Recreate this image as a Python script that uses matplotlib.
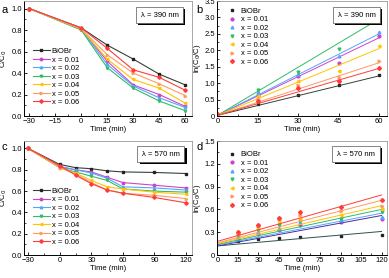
import numpy as np
import matplotlib
matplotlib.use("Agg")
import matplotlib.pyplot as plt
import matplotlib.patheffects as pe

plt.rcParams['font.family'] = ['Liberation Sans', 'DejaVu Sans']
plt.rcParams['font.size'] = 5.5

labels = ["BiOBr", "x = 0.01", "x = 0.02", "x = 0.03", "x = 0.04", "x = 0.05", "x = 0.06"]
colors = ["#222222", "#cc44cc", "#55a5ff", "#33bb66", "#ffc400", "#ff9a60", "#ff3c3c"]
line_cols = ["#334433", "#cc44cc", "#55a5ff", "#33bb66", "#ffc400", "#ff9a60", "#ff3c3c"]
markers = ["s", "o", "^", "v", "<", ">", "D"]

# panel a: C/C0 under 390 nm
t_a = [-30, 0, 15, 30, 45, 60]
cc_a = [
    [1.0, 0.82, 0.66, 0.53, 0.39, 0.29],
    [1.0, 0.81, 0.51, 0.29, 0.20, 0.09],
    [1.0, 0.81, 0.48, 0.28, 0.17, 0.08],
    [1.0, 0.80, 0.45, 0.26, 0.14, 0.05],
    [1.0, 0.81, 0.53, 0.34, 0.26, 0.12],
    [1.0, 0.81, 0.57, 0.40, 0.30, 0.19],
    [1.0, 0.82, 0.63, 0.43, 0.36, 0.24],
]

# panel b: ln(C0/C) under 390 nm
t_b = [0, 15, 30, 45, 60]
ln_b = [
    [0.03, 0.38, 0.64, 0.95, 1.25],
    [0.05, 0.65, 1.22, 1.60, 2.45],
    [0.05, 0.72, 1.28, 1.82, 2.55],
    [0.05, 0.80, 1.35, 2.05, 3.12],
    [0.05, 0.60, 1.08, 1.38, 2.12],
    [0.05, 0.52, 0.95, 1.20, 1.67],
    [0.05, 0.45, 0.85, 1.08, 1.45],
]
fit_b_start = [0.02, 0.02, 0.02, 0.02, 0.02, 0.02, 0.02]
fit_b_end = [1.22, 2.38, 2.50, 2.95, 2.05, 1.62, 1.45]

# panel c: C/C0 under 570 nm
t_c = [-30, 0, 15, 30, 45, 60, 90, 120]
cc_c = [
    [1.0, 0.85, 0.82, 0.81, 0.79, 0.78, 0.775, 0.765],
    [1.0, 0.83, 0.80, 0.78, 0.73, 0.68, 0.655, 0.63],
    [1.0, 0.83, 0.80, 0.77, 0.72, 0.64, 0.63, 0.61],
    [1.0, 0.82, 0.78, 0.74, 0.70, 0.62, 0.60, 0.59],
    [1.0, 0.82, 0.77, 0.70, 0.64, 0.62, 0.59, 0.57],
    [1.0, 0.82, 0.76, 0.68, 0.61, 0.58, 0.56, 0.53],
    [1.0, 0.84, 0.75, 0.67, 0.61, 0.58, 0.54, 0.49],
]

# panel d: ln(C0/C) under 570 nm
t_d = [15, 30, 45, 60, 90, 120]
ln_d = [
    [0.18, 0.21, 0.23, 0.24, 0.25, 0.26],
    [0.22, 0.28, 0.33, 0.39, 0.43, 0.47],
    [0.23, 0.30, 0.36, 0.43, 0.46, 0.50],
    [0.25, 0.33, 0.39, 0.45, 0.48, 0.56],
    [0.27, 0.36, 0.45, 0.48, 0.53, 0.60],
    [0.28, 0.38, 0.47, 0.53, 0.58, 0.64],
    [0.30, 0.40, 0.49, 0.56, 0.63, 0.73],
]
fit_d_start = [0.12, 0.12, 0.13, 0.14, 0.15, 0.16, 0.18]
fit_d_end = [0.31, 0.52, 0.55, 0.60, 0.65, 0.72, 0.79]
d_line_cols = ["#2f4f4f", "#4b2ca0", "#55a5ff", "#33bb66", "#ffc400", "#ff9a60", "#ff3c3c"]

fig = plt.figure(figsize=(3.89, 2.78), dpi=100)
ax_a = fig.add_axes([0.0617, 0.5827, 0.432, 0.4137])
ax_b = fig.add_axes([0.559, 0.5827, 0.436, 0.4137])
ax_c = fig.add_axes([0.0617, 0.0827, 0.432, 0.41])
ax_d = fig.add_axes([0.559, 0.0827, 0.436, 0.41])


def style(ax):
    ax.tick_params(direction="in", length=2, width=0.6, pad=1.5, labelsize=5.5)
    ax.tick_params(which="minor", direction="in", length=1.2, width=0.5)
    for s in ["left", "bottom"]:
        ax.spines[s].set_linewidth(0.7)
    for s in ["top", "right"]:
        ax.spines[s].set_color("#999999")
        ax.spines[s].set_linewidth(0.6)
    ax.xaxis.labelpad = 1
    ax.yaxis.labelpad = 1.5


def lam_box(ax, txt, x, y):
    t = ax.text(x, y, txt, transform=ax.transAxes, ha="center", va="center", fontsize=5.5,
                bbox=dict(boxstyle="square,pad=0.6", fc="white", ec="#555555", lw=0.5), zorder=6)
    t.get_bbox_patch().set_path_effects([
        pe.SimplePatchShadow(offset=(1.5, -1.5), shadow_rgbFace="black", alpha=1.0),
        pe.Normal()])


# a
for i in range(7):
    ax_a.plot(t_a, cc_a[i], color=line_cols[i], marker=markers[i], ms=1.8, lw=0.8,
              mec=colors[i], mfc=colors[i], label=labels[i])
ax_a.set_xlim(-33, 64)
ax_a.set_ylim(0, 1.07)
ax_a.set_xticks([-30, -15, 0, 15, 30, 45, 60])
ax_a.set_xticks(np.arange(-22.5, 60, 15), minor=True)
ax_a.set_yticks([0, 0.2, 0.4, 0.6, 0.8, 1.0])
ax_a.set_yticks(np.arange(0.1, 1.0, 0.2), minor=True)
ax_a.set_xlabel("Time (min)")
ax_a.set_ylabel("C/C$_0$")
ax_a.legend(loc="upper left", bbox_to_anchor=(0.02, 0.64), frameon=False, fontsize=5.5,
            handlelength=2.2, handletextpad=0.3, labelspacing=0.15, borderpad=0.2)
lam_box(ax_a, "λ = 390 nm", 0.807, 0.878)

# b
for i in range(7):
    ax_b.plot(t_b, ln_b[i], ls="none", marker=markers[i], ms=2.0, color=colors[i], label=labels[i])
    ax_b.plot([t_b[0], t_b[-1]], [fit_b_start[i], fit_b_end[i]], color=line_cols[i], lw=0.7)
ax_b.set_xlim(0, 63)
ax_b.set_ylim(0, 3.5)
ax_b.set_xticks([0, 15, 30, 45, 60])
ax_b.set_xticks(np.arange(7.5, 60, 15), minor=True)
ax_b.set_yticks(np.arange(0, 3.6, 0.5))
ax_b.set_yticks(np.arange(0.25, 3.5, 0.5), minor=True)
ax_b.set_yticklabels(["0", "0.5", "1.0", "1.5", "2.0", "2.5", "3.0", "3.5"])
ax_b.set_xlabel("Time (min)")
ax_b.set_ylabel("ln(C$_0$/C)")
ax_b.legend(loc="upper left", bbox_to_anchor=(0.03, 0.99), frameon=False, fontsize=5.5,
            handlelength=1.2, handletextpad=0.5, labelspacing=0.15, borderpad=0.2)
lam_box(ax_b, "λ = 390 nm", 0.82, 0.878)

# c
for i in range(7):
    ax_c.plot(t_c, cc_c[i], color=line_cols[i], marker=markers[i], ms=1.8, lw=0.8,
              mec=colors[i], mfc=colors[i], label=labels[i])
ax_c.set_xlim(-34, 125.7)
ax_c.set_ylim(0, 1.07)
ax_c.set_xticks([-30, 0, 30, 60, 90, 120])
ax_c.set_xticks(np.arange(-15, 120, 30), minor=True)
ax_c.set_yticks([0, 0.2, 0.4, 0.6, 0.8, 1.0])
ax_c.set_yticks(np.arange(0.1, 1.0, 0.2), minor=True)
ax_c.set_xlabel("Time (min)")
ax_c.set_ylabel("C/C$_0$")
ax_c.legend(loc="upper left", bbox_to_anchor=(0.02, 0.64), frameon=False, fontsize=5.5,
            handlelength=2.2, handletextpad=0.3, labelspacing=0.15, borderpad=0.2)
lam_box(ax_c, "λ = 570 nm", 0.815, 0.886)

# d
for i in range(7):
    ax_d.plot(t_d, ln_d[i], ls="none", marker=markers[i], ms=2.0, color=colors[i], label=labels[i])
    ax_d.plot([0, 120], [fit_d_start[i], fit_d_end[i]], color=d_line_cols[i], lw=0.7)
ax_d.set_xlim(0, 124)
ax_d.set_ylim(0, 1.5)
ax_d.set_xticks(np.arange(0, 121, 15))
ax_d.set_xticks(np.arange(7.5, 120, 15), minor=True)
ax_d.set_yticks([0, 0.3, 0.6, 0.9, 1.2, 1.5])
ax_d.set_yticks(np.arange(0.15, 1.5, 0.3), minor=True)
ax_d.set_yticklabels(["0", "0.3", "0.6", "0.9", "1.2", "1.5"])
ax_d.set_xlabel("Time (min)")
ax_d.set_ylabel("ln(C$_0$/C)")
ax_d.legend(loc="upper left", bbox_to_anchor=(0.03, 0.96), frameon=False, fontsize=5.5,
            handlelength=1.2, handletextpad=0.5, labelspacing=0.15, borderpad=0.2)
lam_box(ax_d, "λ = 570 nm", 0.817, 0.886)

for ax in [ax_a, ax_b, ax_c, ax_d]:
    style(ax)

fig.text(0.003, 0.955, "a", fontsize=8)
fig.text(0.505, 0.955, "b", fontsize=8)
fig.text(0.003, 0.46, "c", fontsize=8)
fig.text(0.505, 0.46, "d", fontsize=8)

fig.savefig("out.png", dpi=100)
